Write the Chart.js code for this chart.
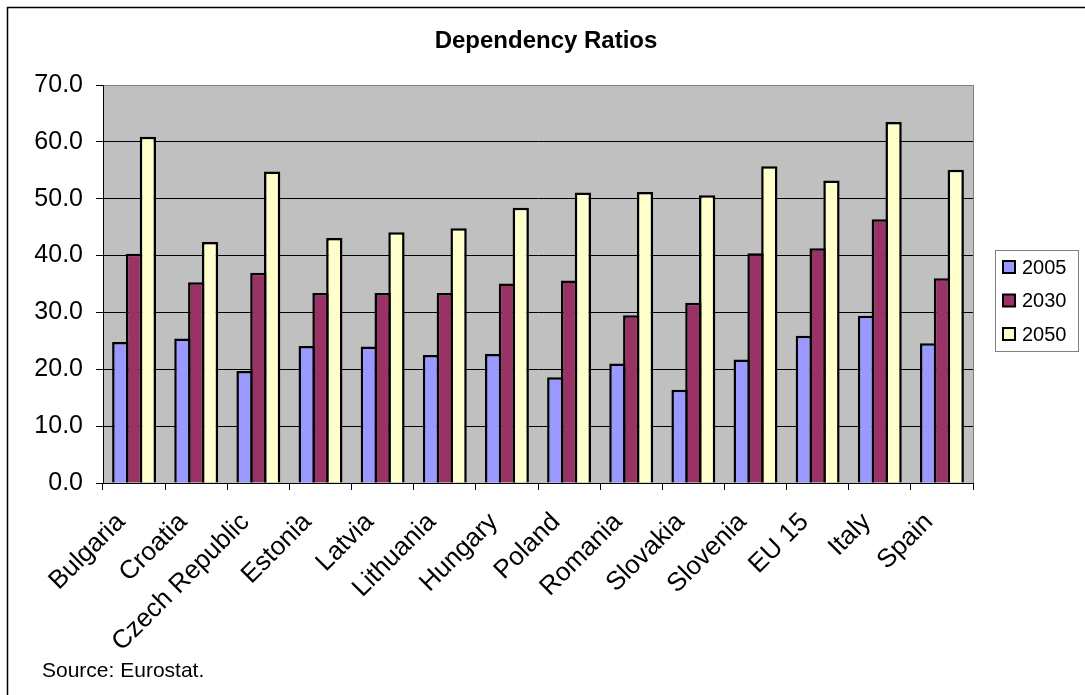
<!DOCTYPE html>
<html>
<head>
<meta charset="utf-8">
<title>Dependency Ratios</title>
<script src="https://cdn.jsdelivr.net/npm/chart.js@4/dist/chart.umd.min.js"></script>
<style>
  html, body { margin: 0; padding: 0; background: #fff; }
  canvas { display: block; }
</style>
</head>
<body>
<canvas id="chart" width="1085" height="695"></canvas>
<script>
// Dependency ratios by country, 2005 / 2030 / 2050 (Eurostat)
const categories = ['Bulgaria', 'Croatia', 'Czech Republic', 'Estonia', 'Latvia', 'Lithuania',
  'Hungary', 'Poland', 'Romania', 'Slovakia', 'Slovenia', 'EU 15', 'Italy', 'Spain'];
const seriesNames = ['2005', '2030', '2050'];
const values2005 = [24.8, 25.4, 19.7, 24.1, 24.0, 22.5, 22.7, 18.6, 21.0, 16.4, 21.7, 25.9, 29.4, 24.6];
const values2030 = [40.3, 35.3, 37.0, 33.4, 33.4, 33.4, 35.1, 35.6, 29.5, 31.7, 40.4, 41.3, 46.4, 36.0];
const values2050 = [60.9, 42.4, 54.8, 43.1, 44.1, 44.8, 48.4, 51.1, 51.2, 50.6, 55.7, 53.2, 63.5, 55.1];
const yTickValues = [0, 10, 20, 30, 40, 50, 60, 70];
const titleText = 'Dependency Ratios';
const sourceText = 'Source: Eurostat.';

const FONT = '"Liberation Sans", Arial, sans-serif';

// plot background, frame, title, legend and source line
const decorations = {
  id: 'decorations',
  beforeDraw(chart) {
    const { ctx, chartArea: a } = chart;
    ctx.save();
    ctx.fillStyle = '#ffffff';
    ctx.fillRect(0, 0, chart.width, chart.height);
    ctx.fillStyle = '#C0C0C0';
    ctx.fillRect(a.left, a.top, a.right - a.left, a.bottom - a.top);
    ctx.restore();
  },
  afterDraw(chart) {
    const { ctx, chartArea: a } = chart;
    ctx.save();
    // right edge of the plot area
    ctx.strokeStyle = '#808080';
    ctx.lineWidth = 1;
    ctx.beginPath();
    ctx.moveTo(Math.round(a.right) + 0.5, a.top);
    ctx.lineTo(Math.round(a.right) + 0.5, a.bottom);
    ctx.stroke();

    // outer frame
    ctx.strokeStyle = '#000';
    ctx.lineWidth = 1.5;
    ctx.beginPath();
    ctx.moveTo(7.5, chart.height);
    ctx.lineTo(7.5, 7.5);
    ctx.lineTo(chart.width, 7.5);
    ctx.stroke();

    // title
    ctx.fillStyle = '#000';
    ctx.font = 'bold 24px ' + FONT;
    ctx.textAlign = 'center';
    ctx.textBaseline = 'alphabetic';
    ctx.fillText(titleText, 546, 48);

    // source line
    ctx.font = '21px ' + FONT;
    ctx.textAlign = 'left';
    ctx.fillText(sourceText, 42, 677);

    // legend
    const lx = 995, ly = 250, lw = 83, lh = 101;
    ctx.strokeStyle = '#808080';
    ctx.lineWidth = 1;
    ctx.fillStyle = '#fff';
    ctx.fillRect(lx, ly, lw, lh);
    ctx.strokeRect(lx + 0.5, ly + 0.5, lw, lh);
    ctx.font = '20px ' + FONT;
    ctx.textBaseline = 'middle';
    chart.data.datasets.forEach((ds, i) => {
      const cy = 267 + i * 33.5;
      ctx.fillStyle = ds.backgroundColor;
      ctx.fillRect(1003, cy - 6, 12, 12);
      ctx.strokeStyle = '#000';
      ctx.lineWidth = 2;
      ctx.strokeRect(1003, cy - 6, 12, 12);
      ctx.fillStyle = '#000';
      ctx.fillText(ds.label, 1022, cy + 1);
    });
    ctx.restore();
  }
};

const colors = ['#9999FF', '#993366', '#FFFFCC'];
const seriesValues = [values2005, values2030, values2050];

// bars are widened by one outline width so neighbours overlap and share a single edge
const BAR_EDGE = 2.5;
const datasets = seriesNames.map((name, i) => ({
  label: name,
  data: seriesValues[i],
  backgroundColor: colors[i],
  borderColor: '#000',
  borderWidth: BAR_EDGE,
  borderSkipped: 'bottom',
  inflateAmount: 0,
  categoryPercentage: 3 / 4.5,
  barPercentage: 1.18
}));

new Chart(document.getElementById('chart'), {
  type: 'bar',
  data: { labels: categories, datasets },
  plugins: [decorations],
  options: {
    responsive: false,
    animation: false,
    devicePixelRatio: 1,
    layout: { padding: { top: 85, right: 112, left: 0, bottom: 0 } },
    plugins: {
      legend: { display: false },
      title: { display: false },
      tooltip: { enabled: false }
    },
    scales: {
      x: {
        offset: true,
        grid: {
          offset: true,
          drawOnChartArea: false,
          drawTicks: true,
          tickLength: 7,
          tickColor: '#000',
          tickWidth: 1
        },
        border: { display: true, color: '#000', width: 1 },
        ticks: {
          autoSkip: false,
          minRotation: 45,
          maxRotation: 45,
          color: '#000',
          padding: 17,
          labelOffset: -13,
          font: { family: FONT, size: 26 }
        },
        afterFit(scale) { scale.height = 212; }
      },
      y: {
        min: 0,
        max: 70,
        afterBuildTicks(scale) {
          scale.ticks = yTickValues.map(v => ({ value: v }));
        },
        grid: {
          color: ctx => (ctx.tick && ctx.tick.value === 70 ? '#808080' : '#000'),
          lineWidth: 1,
          drawTicks: true,
          tickLength: 7,
          tickColor: '#000'
        },
        border: { display: true, color: '#000', width: 1 },
        ticks: {
          color: '#000',
          padding: 13,
          font: { family: FONT, size: 25 },
          callback: v => Number(v).toFixed(1)
        },
        afterFit(scale) { scale.width = 103; }
      }
    }
  }
});
</script>
</body>
</html>
